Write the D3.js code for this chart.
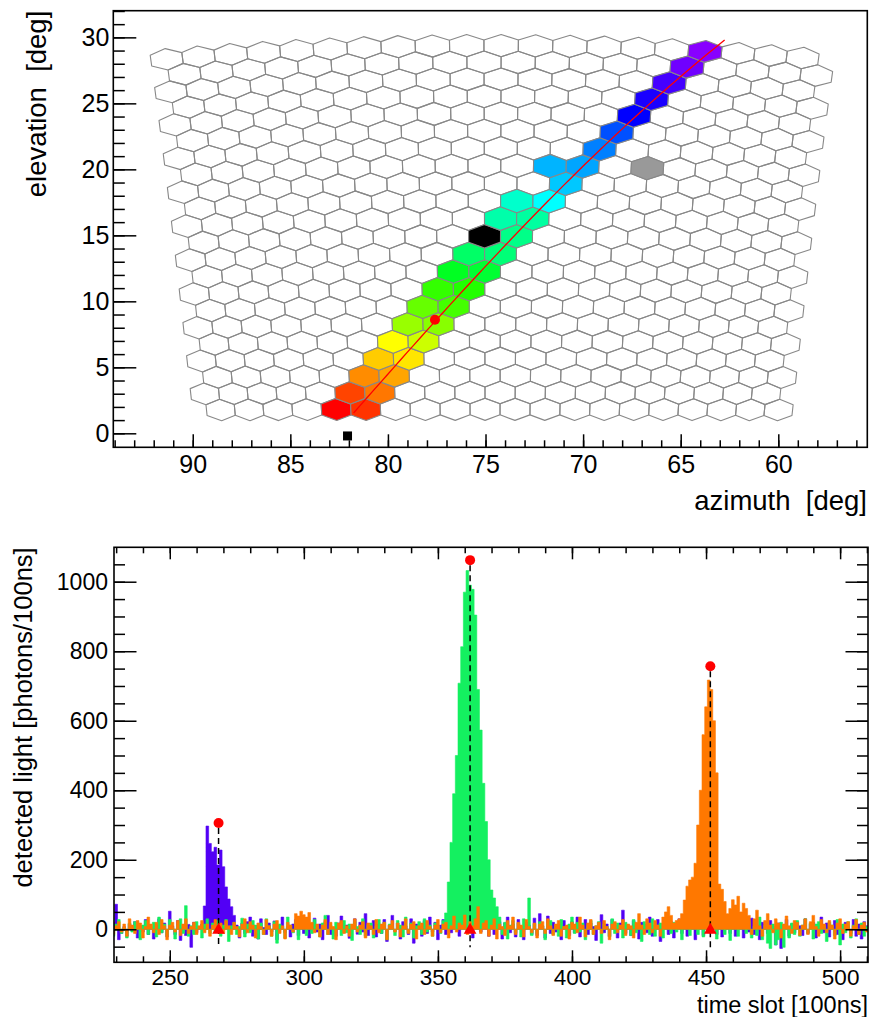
<!DOCTYPE html>
<html>
<head>
<meta charset="utf-8">
<script src="https://cdn.jsdelivr.net/npm/d3@7"></script>
<style>
  body { margin: 0; background: #fff; }
  svg text { font-family: "Liberation Sans", Arial, Helvetica, sans-serif; fill: #000; }
</style>
</head>
<body>
<svg id="chart" width="869" height="1017"></svg>
<script>
const rad = Math.PI / 180;

// ---------- camera view (top panel) ----------
const azTicks = [90, 85, 80, 75, 70, 65, 60];
const elTicks = [0, 5, 10, 15, 20, 25, 30];
const azMinor = d3.range(56, 95);
const elMinor = d3.range(0, 33);

// camera pointing and pixel pitch (tangent plane units)
const camAz = 74.64, camEl = 15.6;
const nRows = 22, nCols = 20;
const pixDx = 0.0276, pixDy = 0.02336;

// [row, column, colour] of pixels with signal
const hitPixels = [
  [0, 4, '#ff0000'], [0, 5, '#ff3300'],
  [1, 5, '#ff4400'], [1, 6, '#ff7700'],
  [2, 5, '#ff8c00'], [2, 6, '#ffa500'],
  [3, 6, '#ffcc00'], [3, 7, '#ffe600'],
  [4, 6, '#ffff00'], [4, 7, '#ccff00'],
  [5, 7, '#99ff00'], [5, 8, '#88ff00'],
  [6, 7, '#66ff00'], [6, 8, '#44ff00'],
  [7, 8, '#33ff00'], [7, 9, '#22ff00'],
  [8, 8, '#00ff22'], [8, 9, '#00ff33'],
  [9, 9, '#00ff66'], [9, 10, '#00ff77'],
  [10, 9, '#000000'], [10, 10, '#00ff88'],
  [11, 10, '#00ffaa'], [11, 11, '#00ffa0'],
  [12, 10, '#00ffcc'], [12, 11, '#00ffff'],
  [13, 12, '#00c8ff'],
  [14, 11, '#00b4ff'], [14, 12, '#00a5ff'], [14, 14, '#999999'],
  [15, 13, '#0080ff'],
  [16, 13, '#0050ff'],
  [17, 14, '#0000ff'],
  [18, 14, '#1a00ff'],
  [19, 15, '#4400ff'],
  [20, 15, '#7000ff'],
  [21, 16, '#8800ff']
];

const trackStart = [81.76, 1.54];
const trackEnd = [62.75, 29.8];
const corePoint = [77.59, 8.6];
const eyePoint = [82.07, -0.2];

// ---------- time traces (bottom panel) ----------
const tStart = 229;
const timeTicks = [250, 300, 350, 400, 450, 500];
const timeMinor = d3.range(230, 511, 10);
const lightTicks = [0, 200, 400, 600, 800, 1000];
const lightMinor = d3.range(-50, 1100, 50);

const blueTrace = [
  20, 72, -30, -12, 8, -20, 15, -5, 22, -25,
  10, -8, 28, -15, 5, -28, 12, 30, -10, 18,
  -22, 52, 10, -15, 25, -32, 6, -18, 14, -52,
  20, -10, 8, 15, 67, 297, 247, 223, 236, 185,
  228, 180, 122, 87, 65, 40, 12, -25, 18, -12,
  22, 35, -20, 10, -28, 30, 5, -15, 18, -8,
  24, -30, 12, 35, -10, 8, -22, 15, 28, -18,
  6, -12, 20, -25, 10, 32, -8, 15, -30, 22,
  40, -15, 5, -20, 18, 38, -10, 12, -26, 8,
  30, -14, 20, -8, 45, -18, 10, 25, -22, 15,
  -12, 28, -35, 12, 40, -6, 18, -28, 22, 10,
  -15, 30, -40, 15, 8, -20, 25, -12, 35, -8,
  20, -30, 12, 28, -15, 18, -10, 25, 8, -20,
  30, 15, -12, 22, -25, 40, 10, -8, 55, 18,
  -20, 30, -15, 12, 22, -28, 18, 35, -10, 15,
  -22, 28, 8, -30, 20, 12, -15, 32, -18, 45,
  10, -25, 38, -12, 20, -8, 15, -30, 25, 10,
  -18, 22, -10, 35, -22, 12, 28, -15, 18, 8,
  -32, 20, 42, -10, 15, -20, 28, 12, -25, 18,
  55, -12, 10, -18, 25, 8, -28, 20, 15, -10,
  35, -20, 12, 28, -35, 15, 10, -15, 22, -25,
  18, 30, -12, 8, -20, 25, 12, -30, 18, 10,
  -18, 22, -10, 15, 28, -15, 20, -22, 12, 30,
  -12, 48, -20, 18, 10, -25, 22, -8, 32, -15,
  12, -30, 20, 15, -12, 25, 8, -45, 18, -55,
  12, 28, -20, 15, -10, 22, 10, -18, 30, -12,
  15, 20, -25, 12, 35, -10, 18, -22, 8, 25,
  -15, 12, -30, 20, 10, -12, 28, -20, 15, -28,
  22, 10
];

const greenTrace = [
  -20, 15, 28, -12, 5, -25, 18, -8, 22, 10,
  -30, 12, 25, -15, 8, 20, -22, 35, -10, 15,
  -18, 28, 5, -28, 12, 30, -12, 68, -20, 10,
  -15, 22, 8, -25, 15, 30, -12, 18, -8, 25,
  -20, 12, 28, -35, 10, 20, -15, 8, 32, -22,
  15, -10, 25, 12, -28, 18, -15, 30, 10, -20,
  22, -40, 15, 8, -25, 35, 12, -10, 20, -30,
  15, 25, -18, 10, -12, 28, 8, -22, 18, 40,
  -15, 12, -28, 20, 10, -18, 25, -10, 15, -32,
  22, 8, -15, 30, -20, 12, 18, -25, 10, 28,
  -12, 20, -30, 15, 8, -18, 25, 12, -22, 35,
  -10, 18, -25, 10, 22, -15, 30, -8, 12, -20,
  18, 10, -12, 25, 47, 136, 250, 390, 500, 708,
  813, 970, 1032, 990, 978, 904, 690, 573, 420, 310,
  200, 113, 90, 65, 35, -15, 20, -28, 12, 25,
  -10, 18, -22, 30, 8, 90, -18, 15, -12, 22,
  10, -30, 18, 25, -15, 12, -20, 28, 8, -25,
  15, 35, -12, 20, -8, 18, -30, 12, 25, -15,
  10, 22, -40, 15, 8, -22, 30, -12, 18, 10,
  -25, 20, 12, -18, 28, -10, 15, -35, 22, 8,
  -15, 30, -20, 12, 18, -25, 10, 28, -12, 20,
  -8, 15, -30, 22, 10, -18, 25, 12, -15, 8,
  -22, 18, 30, -10, 15, -28, 20, 12, -15, 25,
  -32, 10, 18, -20, 15, 28, -12, 22, -25, 10,
  -18, 35, -30, 12, -40, -55, 15, -45, -30, 20,
  -52, 10, -25, 18, -15, 25, -20, 12, 30, -10,
  18, -28, 15, 22, -12, 10, -35, 20, 12, -18,
  28, -45, 15, -10, 22, -25, 12, 30, -15, 18,
  -20, 8
];

const orangeTrace = [
  -15, 10, 22, -8, 15, -20, 30, 12, -12, 25,
  18, -25, 8, 35, 15, -10, 20, -15, 28, 10,
  -30, 12, 20, -8, 25, -18, 15, 30, -12, 8,
  20, -15, 10, 25, -10, 15, -20, 12, 28, -8,
  18, -12, 25, 10, -15, 20, 8, -22, 15, 30,
  -10, 22, 12, -25, 18, 8, -15, 28, 10, -20,
  15, 25, -12, 10, -28, 20, 12, -8, 45, 38,
  52, 42, 35, 48, 20, -10, 15, -22, 12, 28,
  -15, 20, 8, -30, 18, 25, -12, 10, -20, 15,
  30, -8, 12, 22, -25, 18, 10, -15, 28, -10,
  15, 20, -30, 12, 25, -8, 18, -22, 10, 30,
  -12, 15, 22, -28, 10, 18, -15, 25, 8, -20,
  12, 28, -10, 15, 20, -25, 10, 38, -8, 18,
  12, 41, -15, 22, 10, 30, 65, -12, 18, 25,
  -20, 12, 30, -28, 15, 8, -18, 25, 10, 35,
  -15, 20, 12, -22, 28, 8, -10, 18, -25, 15,
  22, -12, 30, 10, -18, 15, 25, -20, 8, 12,
  -28, 20, 15, -10, 35, 12, -22, 18, 28, -15,
  10, 20, -12, 25, 8, -30, 15, 22, -10, 12,
  28, -18, 15, 10, -25, 20, 45, 12, -15, 30,
  18, -10, 25, 12, -20, 35, 50, 65, 40, 18,
  25, 30, 45, 84, 124, 142, 150, 190, 300, 400,
  560, 640, 717, 690, 600, 450, 130, 115, 80, 45,
  60, 85, 70, 95, 50, 75, 60, 40, -15, 30,
  55, 10, -20, 25, 45, 12, -10, 30, 18, -25,
  15, 38, 10, -12, 25, 20, -18, 12, 30, -15,
  22, 40, 8, -20, 28, 15, -10, 25, 12, -28,
  18, 30, -12, 15, 22, -20, 10, 28, -15, 12,
  20, -8
];

const traceColors = ['#5200f5', '#14f060', '#ff7800'];
const pulseTimes = [268.2, 362.0, 451.6];
const pulseMax = [306, 1062, 757];
const pulseStart = [-5, -5, -5];

// ================= drawing =================
const svg = d3.select('#chart');

function styleAxis(g, fontSize) {
  g.select('.domain').remove();
  g.selectAll('.tick line').attr('stroke', '#000').attr('stroke-width', 1.5);
  g.selectAll('text').style('font-size', fontSize + 'px').attr('fill', '#000');
}

// ----- top panel -----
const xTop = d3.scaleLinear().domain([94.07, 55.44]).range([113.3, 867.3]);
const yTop = d3.scaleLinear().domain([-1.06, 32.02]).range([447.3, 10.7]);

function toSky(px, py) {
  const c = Math.cos(camEl * rad), s = Math.sin(camEl * rad);
  const fwd = c - py * s, up = s + py * c;
  return [camAz - Math.atan2(px, fwd) / rad, Math.atan2(up, Math.hypot(fwd, px)) / rad];
}

const hitMap = new Map(hitPixels.map(d => [d[0] + '_' + d[1], d[2]]));
const cells = [];
for (let r = 0; r < nRows; r++) {
  for (let c = 0; c < nCols; c++) cells.push({ r, c, fill: hitMap.get(r + '_' + c) });
}
const hexH = pixDy / 1.5;
const hexCorners = [[0, hexH], [pixDx / 2, hexH / 2], [pixDx / 2, -hexH / 2],
                    [0, -hexH], [-pixDx / 2, -hexH / 2], [-pixDx / 2, hexH / 2]];

function hexPath(d) {
  const cx = (d.c - 9.5) * pixDx + (d.r % 2 === 0 ? pixDx / 4 : -pixDx / 4);
  const cy = (d.r - 10.5) * pixDy;
  const pts = hexCorners.map(([dx, dy]) => {
    const [az, el] = toSky(cx + dx, cy + dy);
    return [xTop(az), yTop(el)];
  });
  return 'M' + pts.map(p => p.join(',')).join('L') + 'Z';
}

const camG = svg.append('g');
camG.selectAll('path')
  .data(cells.sort((a, b) => (a.fill ? 1 : 0) - (b.fill ? 1 : 0)))
  .join('path')
  .attr('d', hexPath)
  .attr('fill', d => d.fill || 'none')
  .attr('stroke', '#888')
  .attr('stroke-width', 1.1)
  .attr('stroke-linejoin', 'round');

// track fit along a great circle
const interp = d3.geoInterpolate(trackStart, trackEnd);
const trackPts = d3.range(0, 1.0001, 0.02).map(interp);
svg.append('path')
  .attr('d', d3.line().x(d => xTop(d[0])).y(d => yTop(d[1]))(trackPts))
  .attr('fill', 'none').attr('stroke', '#ff0000').attr('stroke-width', 1.3);

svg.append('circle')
  .attr('cx', xTop(corePoint[0])).attr('cy', yTop(corePoint[1])).attr('r', 5)
  .attr('fill', '#ff0000');

svg.append('rect')
  .attr('x', xTop(eyePoint[0]) - 4.5).attr('y', yTop(eyePoint[1]) - 4.5)
  .attr('width', 9).attr('height', 9).attr('fill', '#000');

// top axes
svg.append('g').attr('transform', 'translate(113.3,0)')
  .call(d3.axisLeft(yTop).tickValues(elMinor).tickSize(-11.5).tickFormat(''))
  .call(g => styleAxis(g, 25));
svg.append('g').attr('transform', 'translate(113.3,0)')
  .call(d3.axisLeft(yTop).tickValues(elTicks).tickSizeInner(-23).tickSizeOuter(0).tickPadding(4))
  .call(g => styleAxis(g, 25));
svg.append('g').attr('transform', 'translate(0,447.3)')
  .call(d3.axisBottom(xTop).tickValues(azMinor).tickSize(-7).tickFormat(''))
  .call(g => styleAxis(g, 25));
svg.append('g').attr('transform', 'translate(0,447.3)')
  .call(d3.axisBottom(xTop).tickValues(azTicks).tickSizeInner(-13).tickSizeOuter(0).tickPadding(8))
  .call(g => styleAxis(g, 25));

svg.append('rect').attr('x', 113.3).attr('y', 10.7).attr('width', 754).attr('height', 436.6)
  .attr('fill', 'none').attr('stroke', '#000').attr('stroke-width', 1.6);

svg.append('text').attr('x', 867).attr('y', 510).attr('text-anchor', 'end')
  .style('font-size', '27.5px').style('white-space', 'pre').text('azimuth  [deg]');
svg.append('text').attr('transform', 'translate(46,10.7) rotate(-90)').attr('text-anchor', 'end')
  .style('font-size', '27.5px').style('white-space', 'pre').text('elevation  [deg]');

// ----- bottom panel -----
const xBot = d3.scaleLinear().domain([229.2, 510.4]).range([114, 868]);
const yBot = d3.scaleLinear().domain([-95, 1099]).range([962.3, 547.3]);

svg.append('clipPath').attr('id', 'clipB')
  .append('rect').attr('x', 114).attr('y', 547.3).attr('width', 754).attr('height', 415);

const traceArea = d3.area()
  .curve(d3.curveStepAfter)
  .x(d => xBot(d[0]))
  .y0(yBot(0))
  .y1(d => yBot(d[1]));

const traces = [blueTrace, greenTrace, orangeTrace];
const traceG = svg.append('g').attr('clip-path', 'url(#clipB)');
traces.forEach((vals, k) => {
  const pts = vals.map((v, i) => [tStart + i - 0.5, v]);
  pts.push([tStart + vals.length - 0.5, vals[vals.length - 1]]);
  traceG.append('path')
    .attr('d', traceArea(pts))
    .attr('fill', traceColors[k])
    .attr('stroke', traceColors[k])
    .attr('stroke-width', 0.6);
});

// pulse markers
pulseTimes.forEach((t, k) => {
  svg.append('line')
    .attr('x1', xBot(t)).attr('x2', xBot(t))
    .attr('y1', yBot(pulseMax[k]) + 5).attr('y2', yBot(-52))
    .attr('stroke', '#000').attr('stroke-width', 1.5).attr('stroke-dasharray', '6,4');
  svg.append('circle')
    .attr('cx', xBot(t)).attr('cy', yBot(pulseMax[k])).attr('r', 5)
    .attr('fill', '#ff0000');
  svg.append('path')
    .attr('d', d3.symbol(d3.symbolTriangle, 70)())
    .attr('transform', `translate(${xBot(t)},${yBot(pulseStart[k]) - 1})`)
    .attr('fill', '#ff0000');
});

// bottom axes (ticks on all four sides)
svg.append('g').attr('transform', 'translate(114,0)')
  .call(d3.axisLeft(yBot).tickValues(lightMinor).tickSize(-11).tickFormat(''))
  .call(g => styleAxis(g, 23));
svg.append('g').attr('transform', 'translate(114,0)')
  .call(d3.axisLeft(yBot).tickValues(lightTicks).tickSizeInner(-22.5).tickSizeOuter(0)
    .tickPadding(6).tickFormat(d3.format('d')))
  .call(g => styleAxis(g, 23));
svg.append('g').attr('transform', 'translate(868,0)')
  .call(d3.axisRight(yBot).tickValues(lightMinor).tickSize(-11).tickFormat(''))
  .call(g => styleAxis(g, 23));
svg.append('g').attr('transform', 'translate(868,0)')
  .call(d3.axisRight(yBot).tickValues(lightTicks).tickSize(-22.5).tickFormat(''))
  .call(g => styleAxis(g, 23));
svg.append('g').attr('transform', 'translate(0,962.3)')
  .call(d3.axisBottom(xBot).tickValues(timeMinor).tickSize(-6).tickFormat(''))
  .call(g => styleAxis(g, 23));
svg.append('g').attr('transform', 'translate(0,962.3)')
  .call(d3.axisBottom(xBot).tickValues(timeTicks).tickSizeInner(-12).tickSizeOuter(0).tickPadding(7))
  .call(g => styleAxis(g, 22.5));
svg.append('g').attr('transform', 'translate(0,547.3)')
  .call(d3.axisTop(xBot).tickValues(timeMinor).tickSize(-6).tickFormat(''))
  .call(g => styleAxis(g, 23));
svg.append('g').attr('transform', 'translate(0,547.3)')
  .call(d3.axisTop(xBot).tickValues(timeTicks).tickSize(-12).tickFormat(''))
  .call(g => styleAxis(g, 23));

svg.append('rect').attr('x', 114).attr('y', 547.3).attr('width', 754).attr('height', 415)
  .attr('fill', 'none').attr('stroke', '#000').attr('stroke-width', 1.6);

svg.append('text').attr('x', 868).attr('y', 1013).attr('text-anchor', 'end')
  .style('font-size', '23.5px').text('time slot [100ns]');
svg.append('text').attr('transform', 'translate(32,547.3) rotate(-90)').attr('text-anchor', 'end')
  .style('font-size', '25.5px').text('detected light [photons/100ns]');
</script>
</body>
</html>
